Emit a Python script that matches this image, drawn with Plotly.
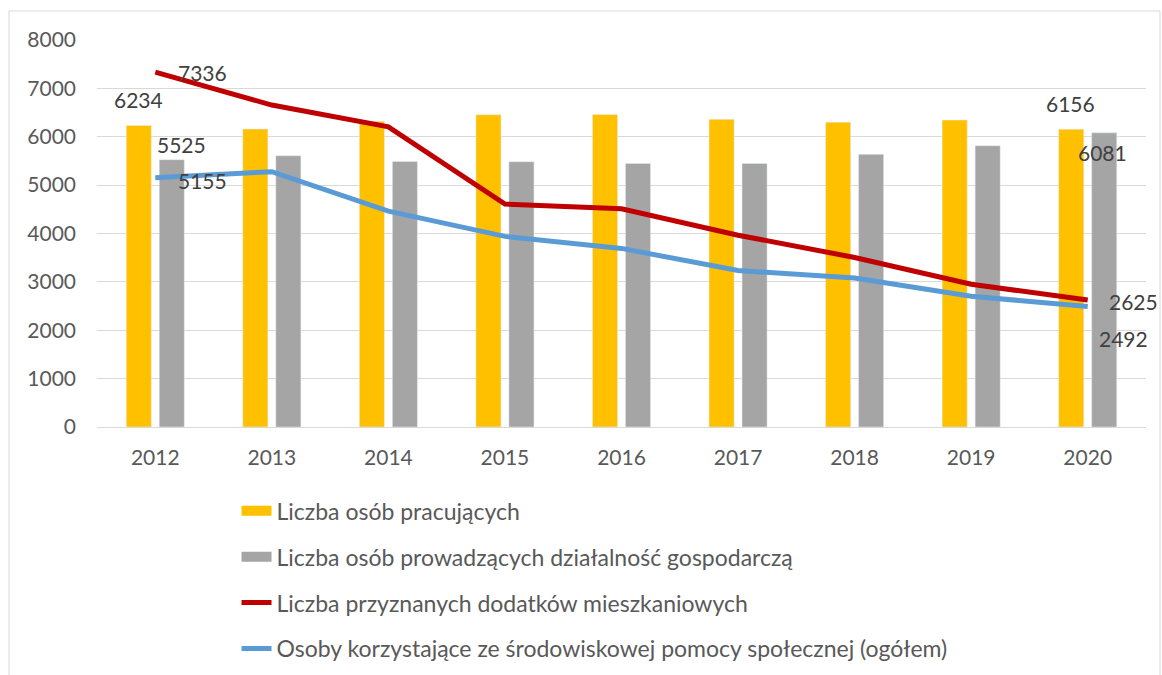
import plotly.graph_objects as go

years = [2012, 2013, 2014, 2015, 2016, 2017, 2018, 2019, 2020]
pracujacy = [6234, 6160, 6320, 6456, 6462, 6360, 6302, 6346, 6156]
dzialalnosc = [5525, 5608, 5490, 5483, 5449, 5449, 5636, 5814, 6081]
dodatki = [7336, 6655, 6205, 4607, 4510, 3965, 3505, 2950, 2625]
pomoc = [5155, 5278, 4462, 3940, 3692, 3235, 3080, 2702, 2492]

names = [
    "Liczba osób pracujących",
    "Liczba osób prowadzących działalność gospodarczą",
    "Liczba przyznanych dodatków mieszkaniowych",
    "Osoby korzystające ze środowiskowej pomocy społecznej (ogółem)",
]
colors = ["#FFC000", "#A5A5A5", "#C00000", "#5B9BD5"]

FONT = "Lato, 'Open Sans', sans-serif"
LABEL_COLOR = "#404040"
TICK_COLOR = "#595959"

fig = go.Figure()
fig.add_trace(go.Bar(x=years, y=pracujacy, name=names[0], marker_color=colors[0],
                     showlegend=False))
fig.add_trace(go.Bar(x=years, y=dzialalnosc, name=names[1], marker_color=colors[1],
                     showlegend=False))
fig.add_trace(go.Scatter(x=years, y=dodatki, name=names[2], mode="lines",
                         line=dict(color=colors[2], width=5), showlegend=False))
fig.add_trace(go.Scatter(x=years, y=pomoc, name=names[3], mode="lines",
                         line=dict(color=colors[3], width=5), showlegend=False))

# legend entries: wide flat blocks for the bars, thick strokes for the lines
for i, (nm, col) in enumerate(zip(names, colors)):
    fig.add_trace(go.Scatter(x=[None], y=[None], name=nm, mode="lines",
                             line=dict(color=col, width=13 if i < 2 else 5),
                             legendgroup=f"g{i}", showlegend=True, hoverinfo="skip"))

# value labels for the first and last year
def label(xv, yv, dx, dy):
    fig.add_annotation(x=xv, y=yv, text=str(yv), showarrow=False,
                       xshift=dx, yshift=dy,
                       font=dict(family=FONT, size=21, color=LABEL_COLOR))

label(years[0], pracujacy[0], -17, 26)
label(years[0], dzialalnosc[0], 26, 15)
label(years[0], dodatki[0], 47, 0)
label(years[0], pomoc[0], 47, -3)
label(years[-1], pracujacy[-1], -17, 26)
label(years[-1], dzialalnosc[-1], 15, -20)
label(years[-1], dodatki[-1], 46, -1)
fig.add_annotation(x=years[-1], y=pomoc[-1], text=str(pomoc[-1]),
                   showarrow=True, arrowhead=0, arrowwidth=1, arrowcolor="#A6A6A6",
                   ax=36, ay=32, standoff=12,
                   font=dict(family=FONT, size=21, color=LABEL_COLOR))

# outer chart frame
fig.add_shape(type="rect", xref="paper", yref="paper",
              x0=(9 - 97) / 1049, x1=(1160 - 97) / 1049,
              y0=(427 - 690) / 387, y1=(427 - 11) / 387,
              line=dict(color="#D9D9D9", width=1), fillcolor="rgba(0,0,0,0)", layer="below")

fig.update_layout(
    width=1162, height=675,
    margin=dict(l=97, r=16, t=40, b=248, pad=0, autoexpand=False),
    paper_bgcolor="white", plot_bgcolor="white",
    barmode="group", bargap=0.434, bargroupgap=0.24,
    font=dict(family=FONT, color=TICK_COLOR, size=21),
    showlegend=True,
    legend=dict(orientation="v", x=0.133, xanchor="left", y=-0.161, yanchor="top",
                font=dict(family=FONT, size=23, color=TICK_COLOR),
                tracegroupgap=13, itemwidth=30, bgcolor="rgba(0,0,0,0)"),
)
fig.update_yaxes(range=[0, 8000], dtick=1000, showgrid=True, gridcolor="#D9D9D9",
                 gridwidth=1, zeroline=False, showline=False, ticks="",
                 ticklabelstandoff=20, tickfont=dict(size=21, color=TICK_COLOR))
fig.update_xaxes(range=[2011.5, 2020.5], tickmode="array", tickvals=years,
                 ticktext=[str(y) for y in years], showgrid=False, zeroline=False,
                 showline=True, linecolor="#D9D9D9", linewidth=1,
                 ticks="", tickfont=dict(size=21, color=TICK_COLOR), ticklabelstandoff=12)

fig.write_html("out.html")
